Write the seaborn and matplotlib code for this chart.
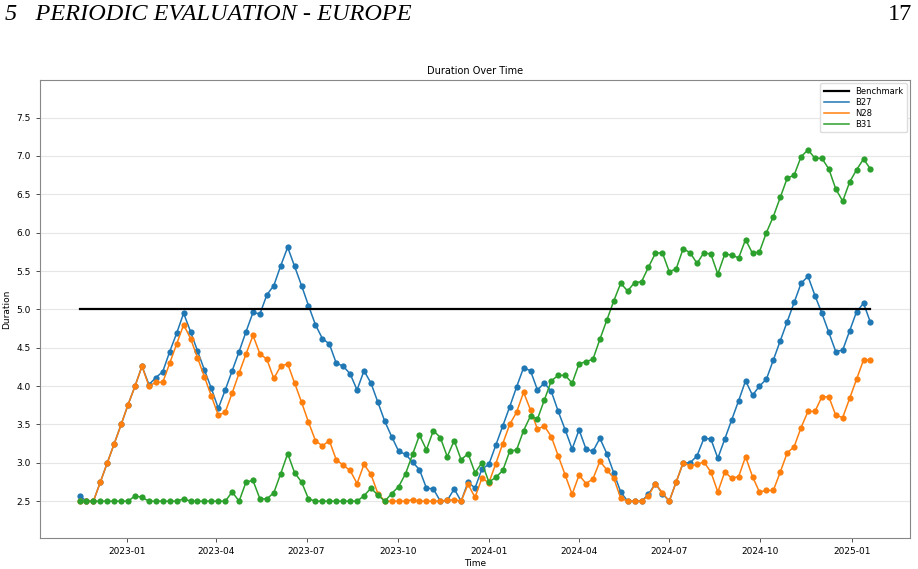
import pandas as pd
import numpy as np
import seaborn as sns
import matplotlib.pyplot as plt
import matplotlib.dates as mdates
from matplotlib.lines import Line2D

# weekly values
dates = pd.date_range('2022-11-14', periods=115, freq='7D')

b27 = [2.57, 2.50, 2.50, 2.75, 3.00, 3.25, 3.50, 3.76, 4.00, 4.26,
       4.02, 4.11, 4.19, 4.45, 4.69, 4.95, 4.71, 4.46, 4.21, 3.97,
       3.71, 3.95, 4.20, 4.45, 4.71, 4.96, 4.94, 5.19, 5.31, 5.57,
       5.81, 5.56, 5.31, 5.05, 4.80, 4.62, 4.55, 4.30, 4.26, 4.16,
       3.95, 4.20, 4.04, 3.79, 3.54, 3.34, 3.15, 3.11, 3.01, 2.91,
       2.67, 2.66, 2.50, 2.51, 2.66, 2.50, 2.75, 2.67, 2.92, 2.98,
       3.23, 3.48, 3.73, 3.99, 4.24, 4.20, 3.95, 4.04, 3.93, 3.67,
       3.43, 3.18, 3.43, 3.18, 3.15, 3.32, 3.12, 2.87, 2.62, 2.50,
       2.50, 2.50, 2.59, 2.73, 2.60, 2.50, 2.75, 3.00, 3.00, 3.09,
       3.32, 3.31, 3.06, 3.31, 3.56, 3.81, 4.07, 3.88, 4.00, 4.09,
       4.34, 4.59, 4.84, 5.09, 5.34, 5.43, 5.18, 4.95, 4.70, 4.45,
       4.47, 4.72, 4.97, 5.08, 4.83]

n28 = [2.50, 2.50, 2.50, 2.75, 3.00, 3.25, 3.50, 3.76, 4.00, 4.26,
       4.00, 4.05, 4.05, 4.30, 4.55, 4.80, 4.62, 4.37, 4.12, 3.87,
       3.62, 3.66, 3.91, 4.17, 4.42, 4.66, 4.42, 4.35, 4.10, 4.26,
       4.29, 4.04, 3.79, 3.53, 3.29, 3.22, 3.29, 3.04, 2.97, 2.90,
       2.73, 2.98, 2.85, 2.60, 2.50, 2.50, 2.50, 2.50, 2.52, 2.50,
       2.50, 2.50, 2.50, 2.51, 2.52, 2.50, 2.72, 2.55, 2.80, 2.74,
       2.99, 3.25, 3.50, 3.66, 3.92, 3.69, 3.44, 3.48, 3.34, 3.09,
       2.84, 2.59, 2.84, 2.73, 2.79, 3.02, 2.91, 2.80, 2.54, 2.50,
       2.50, 2.50, 2.57, 2.73, 2.61, 2.50, 2.75, 3.00, 2.96, 2.98,
       3.01, 2.88, 2.62, 2.88, 2.80, 2.82, 3.08, 2.82, 2.62, 2.64,
       2.64, 2.88, 3.13, 3.21, 3.46, 3.67, 3.67, 3.86, 3.86, 3.62,
       3.59, 3.84, 4.09, 4.34, 4.34]

b31 = [2.50, 2.50, 2.50, 2.50, 2.50, 2.50, 2.50, 2.50, 2.57, 2.55,
       2.50, 2.50, 2.50, 2.50, 2.50, 2.53, 2.50, 2.50, 2.50, 2.50,
       2.50, 2.50, 2.62, 2.50, 2.75, 2.77, 2.53, 2.53, 2.61, 2.86,
       3.12, 2.87, 2.75, 2.53, 2.50, 2.50, 2.50, 2.50, 2.50, 2.50,
       2.50, 2.57, 2.67, 2.58, 2.50, 2.60, 2.69, 2.86, 3.11, 3.36,
       3.17, 3.42, 3.33, 3.08, 3.29, 3.04, 3.12, 2.87, 3.00, 2.75,
       2.81, 2.90, 3.15, 3.17, 3.42, 3.61, 3.57, 3.82, 4.07, 4.14,
       4.14, 4.04, 4.29, 4.32, 4.35, 4.61, 4.86, 5.11, 5.34, 5.24,
       5.35, 5.36, 5.55, 5.73, 5.74, 5.49, 5.53, 5.79, 5.74, 5.60,
       5.74, 5.72, 5.46, 5.72, 5.71, 5.67, 5.91, 5.73, 5.75, 6.00,
       6.21, 6.46, 6.71, 6.75, 6.99, 7.08, 6.97, 6.97, 6.83, 6.57,
       6.41, 6.66, 6.82, 6.96, 6.83]

benchmark = 5.0
series_names = ['B27', 'N28', 'B31']
colors = ['#1f77b4', '#ff7f0e', '#2ca02c']

df = pd.DataFrame({'Time': dates, 'B27': b27, 'N28': n28, 'B31': b31})
long = df.melt(id_vars='Time', var_name='Series', value_name='Duration')

fig = plt.figure(figsize=(9.18, 5.69), dpi=100)

# page header like the report
fig.text(5 / 918, 1 - 14 / 569, '5   PERIODIC EVALUATION - EUROPE', fontsize=17.5,
         family='Liberation Serif', style='italic', va='center', ha='left')
fig.text(912 / 918, 1 - 14 / 569, '17', fontsize=17.5, family='Liberation Serif',
         va='center', ha='right')

ax = fig.add_axes([40 / 918, 1 - 538 / 569, 870 / 918, 458 / 569])

ax.plot([dates[0], dates[-1]], [benchmark, benchmark], color='black', lw=1.6, zorder=3)
sns.lineplot(data=long, x='Time', y='Duration', hue='Series', hue_order=series_names,
             palette=colors, marker='o', markersize=4.5, markeredgewidth=0,
             linewidth=1.1, legend=False, ax=ax)

ax.set_ylim(2.02, 7.99)
ax.set_yticks(np.arange(2.5, 7.51, 0.5))
ax.grid(axis='y', color='#e6e6e6', lw=0.8)
ax.set_axisbelow(True)
for sp in ax.spines.values():
    sp.set_color('#888888')
    sp.set_linewidth(0.8)

ax.xaxis.set_major_locator(mdates.MonthLocator(bymonth=[1, 4, 7, 10]))
ax.xaxis.set_major_formatter(mdates.DateFormatter('%Y-%m'))
ax.tick_params(labelsize=6.5, length=3, width=0.6, colors='#333333', labelcolor='black')

ax.set_title('Duration Over Time', fontsize=7, pad=4)
ax.set_xlabel('Time', fontsize=6.5, labelpad=2)
ax.set_ylabel('Duration', fontsize=6.5, labelpad=4)

handles = [Line2D([], [], color='black', lw=1.6)] + \
          [Line2D([], [], color=c, lw=1.1) for c in colors]
ax.legend(handles, ['Benchmark'] + series_names, loc='upper right', fontsize=6,
          frameon=True, framealpha=1, edgecolor='#dddddd', handlelength=3,
          labelspacing=0.25, borderaxespad=0.4, borderpad=0.4)

fig.savefig('out.png', dpi=100)
